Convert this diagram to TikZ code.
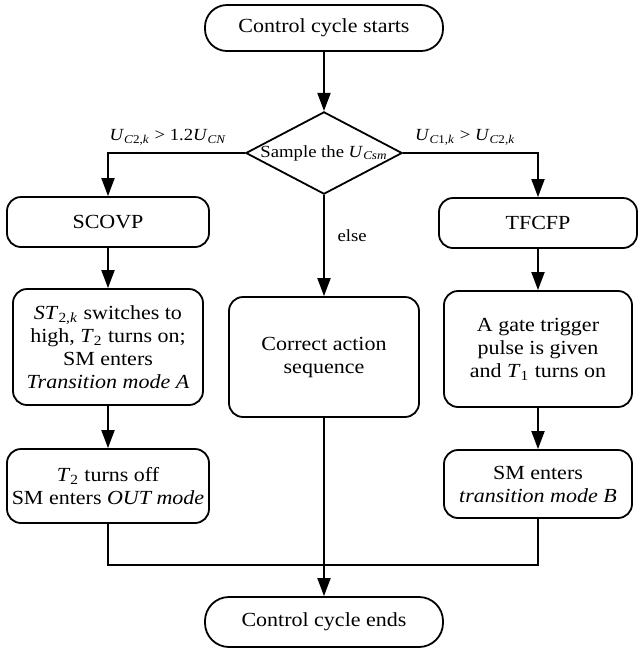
\documentclass[tikz,border=0pt]{standalone}
\usepackage{fontspec}
\setmainfont[FakeStretch=1.1]{Liberation Serif}
\newcommand{\lowidx}[1]{\textsubscript{#1}}
\usetikzlibrary{shapes.geometric,arrows.meta}

\begin{document}
\begin{tikzpicture}[x=0.5pt,y=-0.5pt,line width=0.9pt,font=\fontsize{10}{11.5}\selectfont,
  term/.style={draw,rectangle,rounded corners=11pt,minimum width=119pt,minimum height=23pt,inner sep=0pt},
  proc/.style={draw,rectangle,rounded corners=7pt,align=center,inner sep=0pt},
  lbl/.style={font=\fontsize{8.5}{10}\selectfont},
  arr/.style={-{Triangle[length=9pt,width=6.5pt]}}]
\useasboundingbox (0,0) rectangle (638,650);
\path (324,28) node[term] (start) {Control cycle starts};
\path (324,153) node[draw,diamond,aspect=1.9,inner sep=0pt,minimum width=71pt,minimum height=38pt,lbl] (sample) {Sample the \textit{U}\lowidx{\textit{Csm}}};
\path (108,222) node[proc,minimum width=101pt,minimum height=25pt] (scovp) {SCOVP};
\path (538,223) node[proc,minimum width=99pt,minimum height=25pt] (tfcfp) {TFCFP};
\path (108,347) node[proc,minimum width=95pt,minimum height=58pt] (stwo) {\textit{ST}\lowidx{2,\textit{k}} switches to\\high, \textit{T}\lowidx{2} turns on;\\SM enters\\\textit{Transition mode A}};
\path (538,349) node[proc,minimum width=94pt,minimum height=58pt] (gate) {A gate trigger\\pulse is given\\and \textit{T}\lowidx{1} turns on};
\path (324,357) node[proc,minimum width=95pt,minimum height=60pt] (correct) {Correct action\\sequence};
\path (108,486) node[proc,minimum width=101pt,minimum height=37pt] (tOff) {\textit{T}\lowidx{2} turns off\\SM enters \textit{OUT mode}};
\path (538,484) node[proc,minimum width=94pt,minimum height=34pt] (modeB) {SM enters\\\textit{transition mode B}};
\path (324,622) node[term,minimum height=25pt,rounded corners=12pt] (stop) {Control cycle ends};
\coordinate (merge) at (324,565);
% arrows
\draw[arr] (start) -- (sample);
\draw[arr] (sample.west) -| node[lbl,above,pos=0.28] {\textit{U}\lowidx{\textit{C}2,\textit{k}} > 1.2\textit{U}\lowidx{\textit{CN}}} (scovp);
\draw[arr] (sample.east) -| node[lbl,above,pos=0.23] {\textit{U}\lowidx{\textit{C}1,\textit{k}} > \textit{U}\lowidx{\textit{C}2,\textit{k}}} (tfcfp);
\draw[arr] (sample) -- node[lbl,right=3pt,pos=0.4] {else} (correct);
\draw[arr] (scovp) -- (stwo);
\draw[arr] (stwo) -- (tOff);
\draw[arr] (tfcfp) -- (gate);
\draw[arr] (gate) -- (modeB);
\draw (tOff.south) -- (tOff.south |- merge) -| (modeB.south);
\draw[arr] (correct) -- (stop);
\end{tikzpicture}
\end{document}
